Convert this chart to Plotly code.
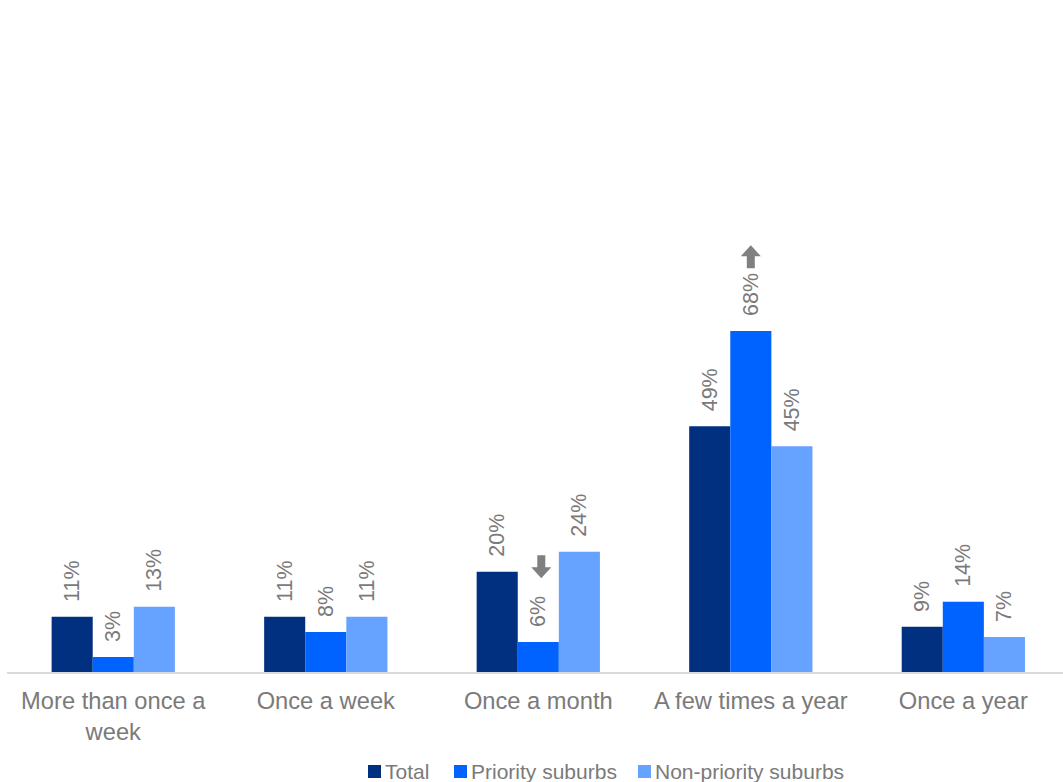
import plotly.graph_objects as go

categories = ["More than once a<br>week", "Once a week", "Once a month", "A few times a year", "Once a year"]
total = [0.11, 0.11, 0.20, 0.49, 0.09]
priority = [0.03, 0.08, 0.06, 0.68, 0.14]
non_priority = [0.13, 0.11, 0.24, 0.45, 0.07]

series = [
    ("Total", total, "#00307F"),
    ("Priority suburbs", priority, "#0062FF"),
    ("Non-priority suburbs", non_priority, "#66A2FF"),
]

label_color = "#7A7A7A"
arrow_color = "#808080"
font_family = "Liberation Sans, Arial, sans-serif"

fig = go.Figure()
for name, vals, color in series:
    fig.add_trace(go.Bar(
        name=name,
        x=categories,
        y=vals,
        marker=dict(color=color, line=dict(width=0)),
        texttemplate="\u00a0\u00a0%{y:.0%}",
        textposition="outside",
        textangle=-90,
        constraintext="none",
        cliponaxis=False,
        textfont=dict(size=21.5, color=label_color, family=font_family),
    ))

# significance arrows (grey) over the Priority suburbs bars, drawn in pixel units
up_path = "M 0 0 L -10 -11 L -4 -11 L -4 -23 L 4 -23 L 4 -11 L 10 -11 Z"
down_path = "M 3 0 L -7 11 L -1 11 L -1 23 L 7 23 L 7 11 L 13 11 Z"
fig.add_shape(type="path", xref="x", yref="y", xsizemode="pixel", ysizemode="pixel",
              xanchor=categories[3], yanchor=0.851, path=up_path,
              fillcolor=arrow_color, line=dict(width=0))
fig.add_shape(type="path", xref="x", yref="y", xsizemode="pixel", ysizemode="pixel",
              xanchor=categories[2], yanchor=0.187, path=down_path,
              fillcolor=arrow_color, line=dict(width=0))

# legend: coloured squares + text (pixel positions converted to paper units)
PL, PW, PB, PH = 7, 1056, 672, 662
def px_x(p):
    return (p - PL) / PW
def px_y(p):
    return (PB - p) / PH

legend_x = [368, 454, 638]
for (name, _, color), xpx in zip(series, legend_x):
    fig.add_shape(type="rect", xref="paper", yref="paper",
                  x0=px_x(xpx), x1=px_x(xpx + 13), y0=px_y(778), y1=px_y(765),
                  fillcolor=color, line=dict(width=0))
    fig.add_annotation(
        xref="paper", yref="paper", x=px_x(xpx + 15), y=px_y(771),
        xanchor="left", yanchor="middle", showarrow=False,
        text=name,
        font=dict(size=21, color=label_color, family=font_family),
    )

fig.update_layout(
    width=1063, height=782,
    margin=dict(l=7, r=0, t=10, b=110, autoexpand=False),
    paper_bgcolor="white", plot_bgcolor="white",
    barmode="group", bargap=0.42, bargroupgap=0,
    font=dict(family=font_family, color=label_color),
    showlegend=False,
    xaxis=dict(range=[-0.5, 4.469], showline=True, linecolor="#D9D9D9", linewidth=1.5,
               ticks="", ticklabelstandoff=7,
               tickfont=dict(size=23.7, color=label_color), showgrid=False),
    yaxis=dict(range=[0, 1.32], visible=False, showgrid=False, zeroline=False),
)

fig.write_html("out.html", config={"displayModeBar": False},
               post_script="document.body.style.margin='0';")
